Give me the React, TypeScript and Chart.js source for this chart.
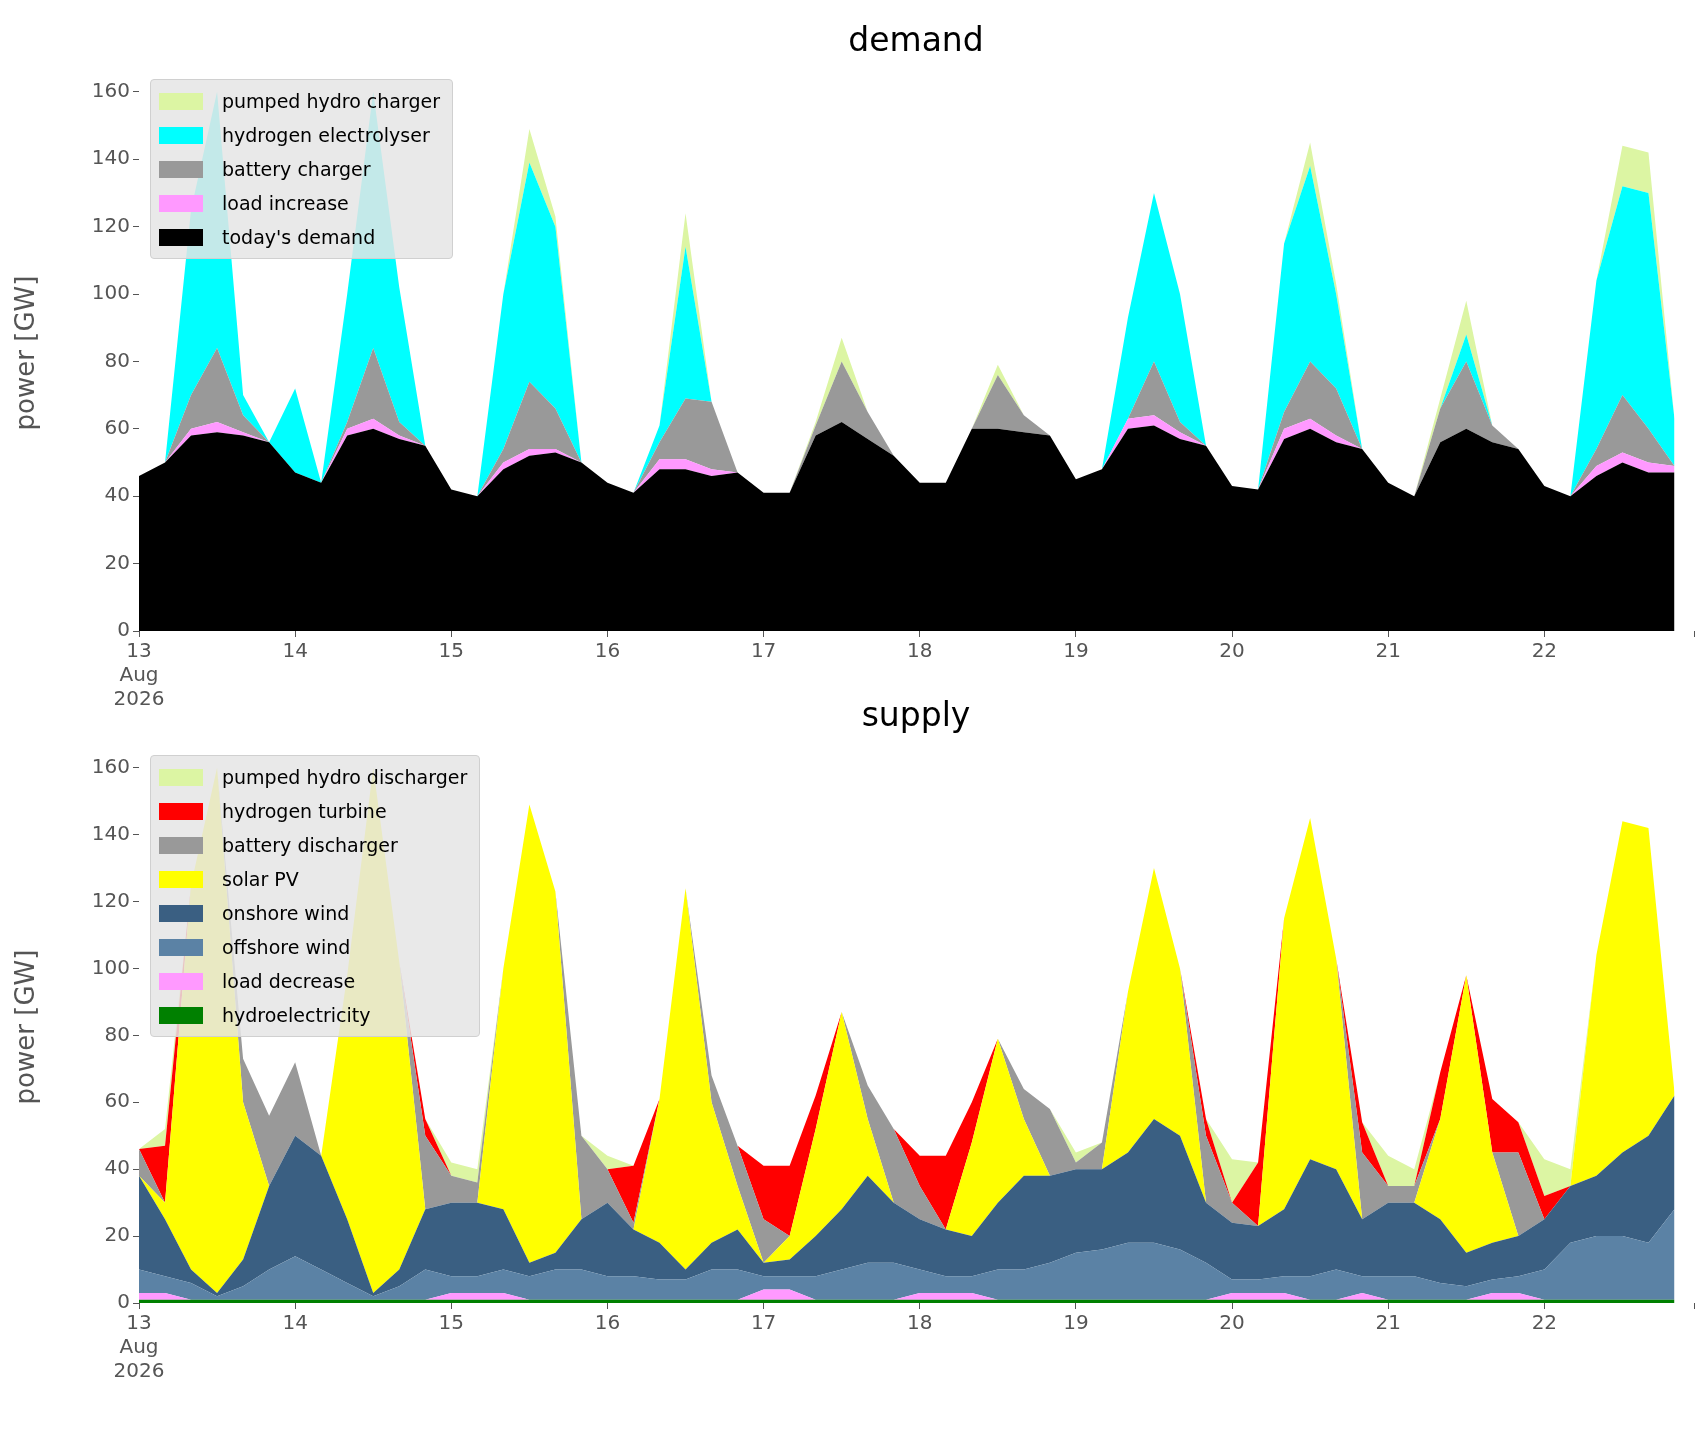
import { useEffect, useRef } from "react";
import { Chart, registerables } from "chart.js";

Chart.register(...registerables);

// sample times, hours after 13 Aug 00:00, every 4 hours
const hours: number[] = [];
for (let h = 0; h <= 236; h += 4) hours.push(h);

const yTicks = [0, 20, 40, 60, 80, 100, 120, 140, 160];

// ---- demand (GW) ----
const todaysDemand = [
  46, 50, 58, 59, 58, 56, 47, 44, 58, 60, 57, 55, 42, 40, 48, 52, 53, 50, 44, 41,
  48, 48, 46, 47, 41, 41, 58, 62, 57, 52, 44, 44, 60, 60, 59, 58, 45, 48, 60, 61,
  57, 55, 43, 42, 57, 60, 56, 54, 44, 40, 56, 60, 56, 54, 43, 40, 46, 50, 47, 47,
];
const loadIncrease = [
  0, 0, 2, 3, 1, 0, 0, 0, 2, 3, 1, 0, 0, 0, 2, 2, 1, 0, 0, 0,
  3, 3, 2, 0, 0, 0, 0, 0, 0, 0, 0, 0, 0, 0, 0, 0, 0, 0, 3, 3,
  2, 0, 0, 0, 3, 3, 2, 0, 0, 0, 0, 0, 0, 0, 0, 0, 3, 3, 3, 2,
];
const batteryCharger = [
  0, 0, 10, 22, 5, 0, 0, 0, 2, 21, 4, 0, 0, 0, 4, 20, 12, 0, 0, 0,
  5, 18, 20, 0, 0, 0, 3, 18, 8, 0, 0, 0, 0, 16, 5, 0, 0, 0, 0, 16,
  3, 0, 0, 0, 5, 17, 14, 0, 0, 0, 10, 20, 5, 0, 0, 0, 5, 17, 10, 0,
];
const hydrogenElectrolyser = [
  0, 0, 55, 76, 6, 0, 25, 0, 38, 76, 40, 0, 0, 0, 46, 65, 54, 0, 0, 0,
  5, 45, 0, 0, 0, 0, 0, 0, 0, 0, 0, 0, 0, 0, 0, 0, 0, 0, 30, 50,
  38, 0, 0, 0, 50, 58, 28, 0, 0, 0, 0, 8, 0, 0, 0, 0, 50, 62, 70, 14,
];
const pumpedHydroCharger = [
  0, 0, 0, 0, 0, 0, 0, 0, 0, 0, 0, 0, 0, 0, 0, 10, 3, 0, 0, 0,
  0, 10, 0, 0, 0, 0, 1, 7, 0, 0, 0, 0, 0, 3, 0, 0, 0, 0, 0, 0,
  0, 0, 0, 0, 0, 7, 3, 0, 0, 0, 3, 10, 0, 0, 0, 0, 0, 12, 12, 0,
];

// ---- supply (GW) ----
const hydroelectricity = [
  1, 1, 1, 1, 1, 1, 1, 1, 1, 1, 1, 1, 1, 1, 1, 1, 1, 1, 1, 1,
  1, 1, 1, 1, 1, 1, 1, 1, 1, 1, 1, 1, 1, 1, 1, 1, 1, 1, 1, 1,
  1, 1, 1, 1, 1, 1, 1, 1, 1, 1, 1, 1, 1, 1, 1, 1, 1, 1, 1, 1,
];
const loadDecrease = [
  2, 2, 0, 0, 0, 0, 0, 0, 0, 0, 0, 0, 2, 2, 2, 0, 0, 0, 0, 0,
  0, 0, 0, 0, 3, 3, 0, 0, 0, 0, 2, 2, 2, 0, 0, 0, 0, 0, 0, 0,
  0, 0, 2, 2, 2, 0, 0, 2, 0, 0, 0, 0, 2, 2, 0, 0, 0, 0, 0, 0,
];
const offshoreWind = [
  7, 5, 5, 1, 4, 9, 13, 9, 5, 1, 4, 9, 5, 5, 7, 7, 9, 9, 7, 7,
  6, 6, 9, 9, 4, 4, 7, 9, 11, 11, 7, 5, 5, 9, 9, 11, 14, 15, 17, 17,
  15, 11, 4, 4, 5, 7, 9, 5, 7, 7, 5, 4, 4, 5, 9, 17, 19, 19, 17, 27,
];
const onshoreWind = [
  28, 17, 4, 1, 8, 25, 36, 34, 19, 1, 5, 18, 22, 22, 18, 4, 5, 15, 22, 14,
  11, 3, 8, 12, 4, 5, 12, 18, 26, 18, 15, 14, 12, 20, 28, 26, 25, 24, 27, 37,
  34, 18, 17, 16, 20, 35, 30, 17, 22, 22, 19, 10, 11, 12, 15, 17, 18, 25, 32, 34,
];
const solarPV = [
  0, 5, 115, 157, 47, 0, 0, 0, 73, 157, 92, 0, 0, 0, 72, 137, 108, 0, 0, 0,
  43, 114, 42, 13, 0, 7, 32, 59, 17, 0, 0, 0, 28, 49, 17, 0, 0, 0, 48, 75,
  50, 0, 0, 0, 87, 102, 63, 0, 0, 0, 30, 83, 27, 0, 0, 0, 66, 99, 92, 1,
];
const batteryDischarger = [
  8, 0, 0, 0, 13, 21, 22, 0, 0, 0, 0, 22, 8, 6, 0, 0, 0, 25, 10, 2,
  0, 0, 8, 12, 13, 0, 0, 0, 10, 22, 10, 0, 0, 0, 9, 20, 2, 8, 0, 0,
  0, 20, 6, 0, 0, 0, 0, 20, 5, 5, 0, 0, 0, 25, 0, 0, 0, 0, 0, 0,
];
const hydrogenTurbine = [
  0, 17, 0, 0, 0, 0, 0, 0, 0, 0, 0, 5, 0, 0, 0, 0, 0, 0, 0, 17,
  0, 0, 0, 0, 16, 21, 10, 0, 0, 0, 9, 22, 12, 0, 0, 0, 0, 0, 0, 0,
  0, 5, 0, 19, 0, 0, 0, 9, 0, 0, 14, 0, 16, 9, 7, 0, 0, 0, 0, 0,
];
const pumpedHydroDischarger = [
  0, 5, 0, 0, 0, 0, 0, 0, 0, 0, 0, 0, 4, 4, 0, 0, 0, 0, 4, 0,
  0, 0, 0, 0, 0, 0, 0, 0, 0, 0, 0, 0, 0, 0, 0, 0, 3, 0, 0, 0,
  0, 0, 13, 0, 0, 0, 0, 0, 9, 5, 0, 0, 0, 0, 11, 5, 0, 0, 0, 0,
];

type Series = { label: string; color: string; values: number[] };

const demandSeries: Series[] = [
  { label: "today's demand", color: "#000000", values: todaysDemand },
  { label: "load increase", color: "#ff99ff", values: loadIncrease },
  { label: "battery charger", color: "#999999", values: batteryCharger },
  { label: "hydrogen electrolyser", color: "#00ffff", values: hydrogenElectrolyser },
  { label: "pumped hydro charger", color: "#dcf5a3", values: pumpedHydroCharger },
];

const supplySeries: Series[] = [
  { label: "hydroelectricity", color: "#008000", values: hydroelectricity },
  { label: "load decrease", color: "#ff99ff", values: loadDecrease },
  { label: "offshore wind", color: "#5b82a5", values: offshoreWind },
  { label: "onshore wind", color: "#3a5f82", values: onshoreWind },
  { label: "solar PV", color: "#ffff00", values: solarPV },
  { label: "battery discharger", color: "#999999", values: batteryDischarger },
  { label: "hydrogen turbine", color: "#ff0000", values: hydrogenTurbine },
  { label: "pumped hydro discharger", color: "#dcf5a3", values: pumpedHydroDischarger },
];

const FONT = "'DejaVu Sans', sans-serif";
const TEXT = "#555555";

function AreaChart({ series, padTop }: { series: Series[]; padTop: number }) {
  const canvasRef = useRef<HTMLCanvasElement>(null);

  useEffect(() => {
    if (!canvasRef.current) return;
    const chart = new Chart(canvasRef.current, {
      type: "line",
      data: {
        datasets: series.map((s, i) => ({
          label: s.label,
          data: hours.map((h, j) => ({ x: h, y: s.values[j] })),
          borderWidth: 0,
          borderColor: s.color,
          backgroundColor: s.color,
          fill: i === 0 ? "origin" : "-1",
          pointRadius: 0,
          tension: 0,
        })),
      },
      options: {
        animation: false,
        responsive: false,
        layout: { padding: { top: padTop, right: 4, left: 0, bottom: 0 } },
        plugins: { legend: { display: false }, tooltip: { enabled: false } },
        scales: {
          x: {
            type: "linear",
            min: 0,
            max: 239,
            border: { display: false },
            grid: { drawOnChartArea: false, drawTicks: true, tickLength: 6, color: TEXT },
            afterFit: (s: any) => {
              s.height = 120;
            },
            afterBuildTicks: (s: any) => {
              s.ticks = [0, 24, 48, 72, 96, 120, 144, 168, 192, 216, 239].map((v) => ({ value: v }));
            },
            ticks: {
              color: TEXT,
              font: { family: FONT, size: 20 },
              maxRotation: 0,
              autoSkip: false,
              callback: (v: any) => {
                const d = Math.round(Number(v) / 24) + 13;
                if (d === 23) return "";
                return d === 13 ? ["13", "Aug", "2026"] : String(d);
              },
            },
          },
          y: {
            stacked: true,
            min: 0,
            max: 165,
            border: { display: false },
            grid: { drawOnChartArea: false, drawTicks: true, tickLength: 6, color: TEXT },
            afterFit: (s: any) => {
              s.width = 131;
            },
            afterBuildTicks: (s: any) => {
              s.ticks = yTicks.map((v) => ({ value: v }));
            },
            ticks: {
              color: TEXT,
              font: { family: FONT, size: 20 },
            },
            title: {
              display: true,
              text: "power [GW]",
              color: TEXT,
              font: { family: FONT, size: 26 },
            },
          },
        },
      },
    });
    return () => chart.destroy();
  }, [series, padTop]);

  return <canvas ref={canvasRef} width={1690} height={743} style={{ display: "block" }} />;
}

function Legend({ series, top }: { series: Series[]; top: number }) {
  const items = [...series].reverse();
  return (
    <div
      style={{
        position: "absolute",
        left: 142,
        top,
        background: "rgba(229,229,229,0.85)",
        border: "1px solid #d0d0d0",
        borderRadius: 4,
        padding: "4px 12px 4px 8px",
        fontFamily: FONT,
        fontSize: 19,
        color: "#000",
      }}
    >
      {items.map((s) => (
        <div key={s.label} style={{ display: "flex", alignItems: "center", height: 34 }}>
          <span style={{ width: 44, height: 17, background: s.color, marginRight: 19 }} />
          {s.label}
        </div>
      ))}
    </div>
  );
}

export default function App() {
  const title = {
    position: "absolute" as const,
    left: 0,
    width: 1816,
    textAlign: "center" as const,
    fontFamily: FONT,
    fontSize: 33,
    color: "#000",
  };
  return (
    <div style={{ position: "relative", width: 1690, height: 1415 }}>
      <div style={{ position: "absolute", left: 0, top: 0 }}>
        <AreaChart series={demandSeries} padTop={67} />
      </div>
      <div style={{ position: "absolute", left: 0, top: 672 }}>
        <AreaChart series={supplySeries} padTop={71} />
      </div>
      <div style={{ ...title, top: 12 }}>demand</div>
      <div style={{ ...title, top: 687 }}>supply</div>
      <Legend series={demandSeries} top={71} />
      <Legend series={supplySeries} top={747} />
    </div>
  );
}
